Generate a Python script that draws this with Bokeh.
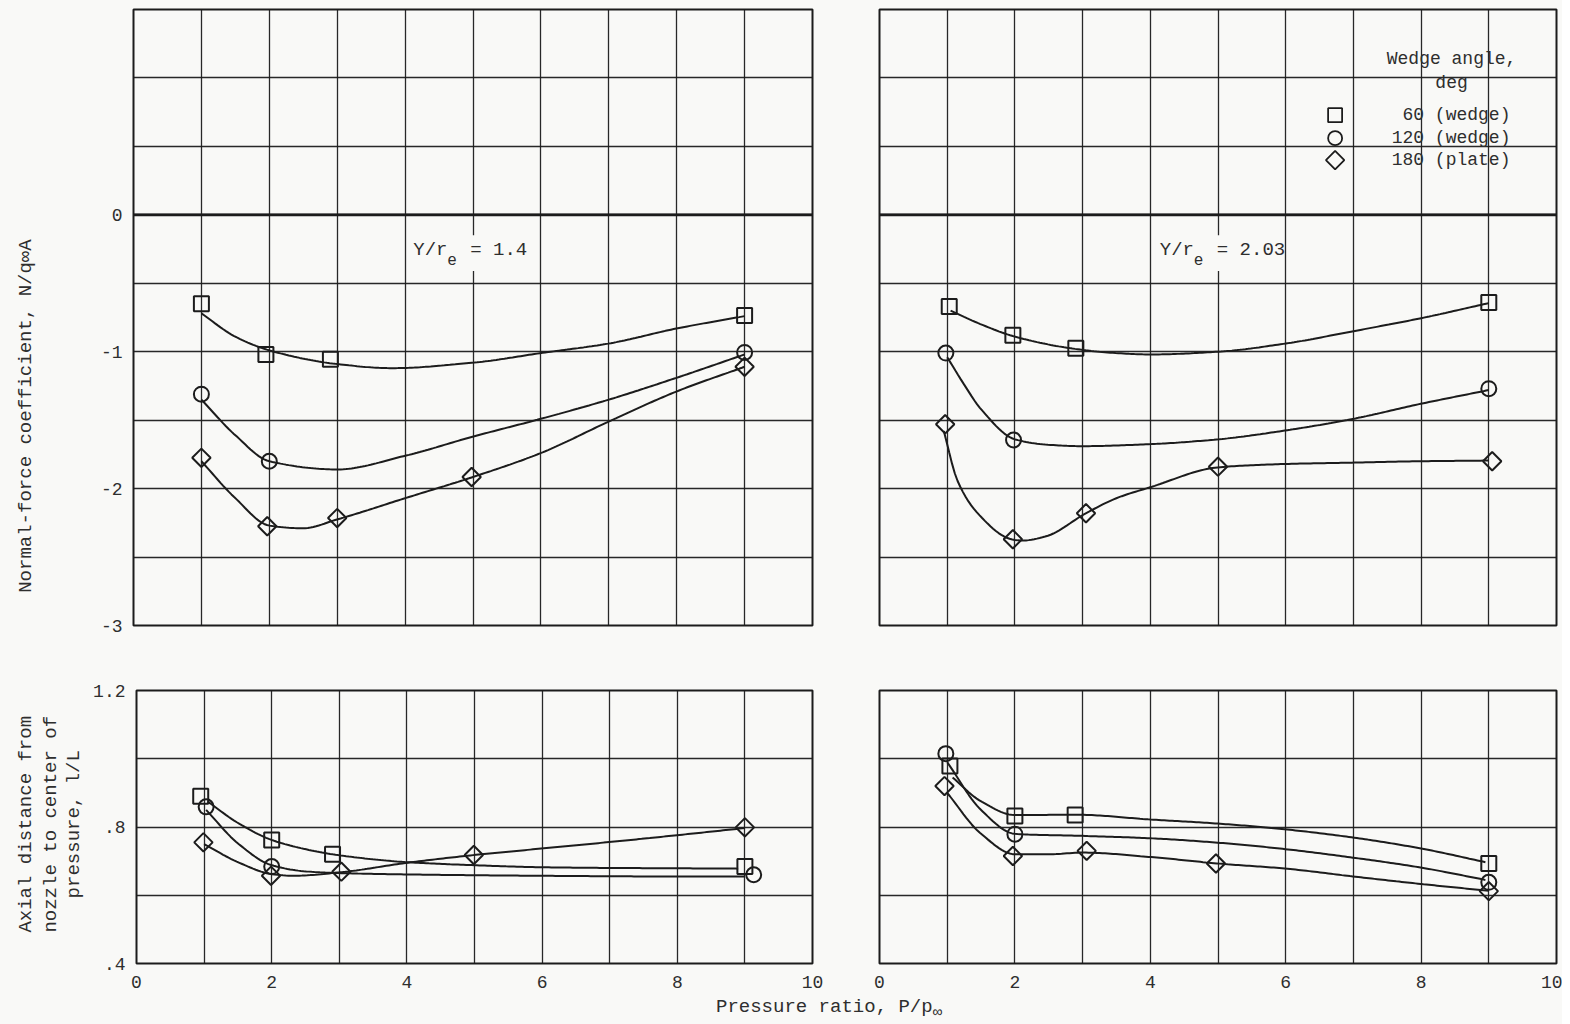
import numpy as np
from math import pi
from bokeh.plotting import figure
from bokeh.models import FixedTicker, Label, Span, BoxAnnotation, Div
from bokeh.layouts import column, row
from bokeh.embed import file_html
from bokeh.resources import INLINE

# ---------------- data ----------------
# Normal-force coefficient, Y/re = 1.4
nf14_sq_x = [1.0, 1.95, 2.9, 9.0]
nf14_sq_y = [-0.65, -1.02, -1.055, -0.735]
nf14_ci_x = [1.0, 2.0, 9.0]
nf14_ci_y = [-1.31, -1.80, -1.005]
nf14_di_x = [1.0, 1.97, 3.0, 4.98, 9.0]
nf14_di_y = [-1.775, -2.275, -2.215, -1.915, -1.11]
# faired curves
nf14_sq_fx = [1.0, 1.5, 2.0, 3.0, 3.8, 5.0, 6.0, 7.0, 8.0, 9.0]
nf14_sq_fy = [-0.72, -0.89, -0.99, -1.09, -1.12, -1.08, -1.01, -0.94, -0.83, -0.74]
nf14_ci_fx = [1.0, 1.5, 2.0, 3.0, 4.0, 5.0, 6.0, 7.0, 8.0, 9.0]
nf14_ci_fy = [-1.35, -1.61, -1.80, -1.86, -1.76, -1.62, -1.49, -1.35, -1.19, -1.02]
nf14_di_fx = [1.0, 1.5, 2.0, 2.5, 3.0, 4.0, 5.0, 6.0, 7.0, 8.0, 9.0]
nf14_di_fy = [-1.80, -2.07, -2.27, -2.29, -2.225, -2.07, -1.915, -1.74, -1.51, -1.29, -1.11]

# Normal-force coefficient, Y/re = 2.03
nf20_sq_x = [1.03, 1.97, 2.9, 9.0]
nf20_sq_y = [-0.67, -0.88, -0.975, -0.64]
nf20_ci_x = [0.98, 1.98, 9.0]
nf20_ci_y = [-1.01, -1.645, -1.27]
nf20_di_x = [0.97, 1.97, 3.05, 5.0, 9.05]
nf20_di_y = [-1.53, -2.37, -2.18, -1.84, -1.80]
nf20_sq_fx = [1.05, 1.5, 2.0, 2.9, 3.5, 4.0, 5.0, 6.0, 7.0, 8.0, 9.0]
nf20_sq_fy = [-0.70, -0.80, -0.89, -0.98, -1.01, -1.02, -1.0, -0.94, -0.85, -0.755, -0.645]
nf20_ci_fx = [1.0, 1.25, 1.5, 2.0, 2.5, 3.0, 4.0, 5.0, 6.0, 7.0, 8.0, 9.0]
nf20_ci_fy = [-1.04, -1.24, -1.42, -1.64, -1.68, -1.69, -1.675, -1.64, -1.575, -1.49, -1.38, -1.28]
nf20_di_fx = [0.95, 1.15, 1.45, 1.95, 2.1, 2.45, 3.05, 3.5, 4.0, 5.0, 6.0, 7.0, 8.0, 9.0]
nf20_di_fy = [-1.58, -1.94, -2.18, -2.37, -2.38, -2.35, -2.18, -2.07, -1.99, -1.845, -1.82, -1.81, -1.80, -1.795]

# Center of pressure l/L, Y/re = 1.4
cp14_sq_x = [0.95, 2.0, 2.9, 9.0]
cp14_sq_y = [0.89, 0.762, 0.72, 0.684]
cp14_ci_x = [1.03, 2.0, 9.13]
cp14_ci_y = [0.859, 0.684, 0.66]
cp14_di_x = [0.99, 1.99, 3.03, 4.99, 9.0]
cp14_di_y = [0.755, 0.657, 0.669, 0.718, 0.799]
cp14_sq_fx = [1.05, 1.5, 2.0, 2.5, 2.9, 4.0, 5.0, 6.0, 7.0, 8.0, 8.9]
cp14_sq_fy = [0.875, 0.812, 0.762, 0.735, 0.72, 0.697, 0.688, 0.682, 0.68, 0.679, 0.678]
cp14_ci_fx = [1.03, 1.5, 2.0, 2.5, 3.0, 4.0, 6.0, 8.0, 9.0]
cp14_ci_fy = [0.85, 0.752, 0.688, 0.67, 0.665, 0.661, 0.657, 0.655, 0.655]
cp14_di_fx = [1.0, 1.5, 2.0, 2.3, 3.0, 4.0, 5.0, 6.0, 7.0, 8.0, 9.0]
cp14_di_fy = [0.75, 0.697, 0.662, 0.657, 0.667, 0.695, 0.718, 0.737, 0.756, 0.776, 0.797]

# Center of pressure l/L, Y/re = 2.03
cp20_sq_x = [1.04, 2.0, 2.89, 9.0]
cp20_sq_y = [0.979, 0.832, 0.835, 0.693]
cp20_ci_x = [0.98, 2.0, 9.0]
cp20_ci_y = [1.015, 0.779, 0.638]
cp20_di_x = [0.96, 1.97, 3.06, 4.97, 9.0]
cp20_di_y = [0.92, 0.715, 0.73, 0.693, 0.612]
cp20_sq_fx = [1.08, 1.5, 2.0, 2.9, 4.0, 5.0, 6.0, 7.0, 8.0, 8.95]
cp20_sq_fy = [0.945, 0.875, 0.835, 0.836, 0.822, 0.81, 0.793, 0.769, 0.737, 0.697]
cp20_ci_fx = [1.0, 1.5, 2.0, 3.0, 4.0, 5.0, 6.0, 7.0, 8.0, 8.95]
cp20_ci_fy = [0.99, 0.85, 0.78, 0.774, 0.767, 0.754, 0.735, 0.71, 0.681, 0.645]
cp20_di_fx = [1.0, 1.5, 2.0, 2.5, 3.0, 4.0, 5.0, 6.0, 7.0, 8.0, 9.0]
cp20_di_fy = [0.9, 0.78, 0.72, 0.72, 0.725, 0.712, 0.693, 0.678, 0.655, 0.633, 0.613]

x_ticks = [0, 2, 4, 6, 8, 10]
nf_ticks = [-3, -2, -1, 0]
cp_ticks = [0.4, 0.8, 1.2]
cp_tick_labels = {0.4: ".4", 0.8: ".8", 1.2: "1.2"}
legend_title = ["Wedge angle,", "deg"]
legend_labels = ["60 (wedge)", "120 (wedge)", "180 (plate)"]
nf_label = "Normal-force coefficient, N/q\u221eA"
cp_label_lines = ["Axial distance from", "nozzle to center of", "pressure, l/L"]

# ---------------- styling ----------------
FONT = "Liberation Mono"
INK = "#1c1c1c"
TXT = "#2e2e2e"
BG = "#f9f9f7"
LBL_W = 90  # width of the strip that carries the rotated y titles


def pchip(x, y, n=200):
    x = np.asarray(x, float)
    y = np.asarray(y, float)
    h = np.diff(x)
    d = np.diff(y) / h
    m = np.zeros_like(y)
    m[0] = d[0]
    m[-1] = d[-1]
    for k in range(1, len(x) - 1):
        if d[k - 1] * d[k] <= 0:
            m[k] = 0.0
        else:
            w1 = 2 * h[k] + h[k - 1]
            w2 = h[k] + 2 * h[k - 1]
            m[k] = (w1 + w2) / (w1 / d[k - 1] + w2 / d[k])
    xs = np.linspace(x[0], x[-1], n)
    idx = np.clip(np.searchsorted(x, xs) - 1, 0, len(x) - 2)
    t = (xs - x[idx]) / h[idx]
    h00 = 2 * t**3 - 3 * t**2 + 1
    h10 = t**3 - 2 * t**2 + t
    h01 = -2 * t**3 + 3 * t**2
    h11 = t**3 - t**2
    ys = h00 * y[idx] + h10 * h[idx] * m[idx] + h01 * y[idx + 1] + h11 * h[idx] * m[idx + 1]
    return xs, ys


def make_fig(w, h, yr, mbl, mbr, mbt, mbb, ygrid_ticks):
    p = figure(width=w, height=h, x_range=(0, 10), y_range=yr,
               output_backend="svg", toolbar_location=None,
               min_border_left=mbl, min_border_right=mbr,
               min_border_top=mbt, min_border_bottom=mbb)
    p.background_fill_color = BG
    p.border_fill_color = BG
    p.outline_line_color = INK
    p.outline_line_width = 2
    p.xgrid.ticker = FixedTicker(ticks=list(range(0, 11)))
    p.ygrid.ticker = FixedTicker(ticks=ygrid_ticks)
    for g in (p.xgrid, p.ygrid):
        g.grid_line_color = INK
        g.grid_line_width = 1.3
        g.grid_line_alpha = 0.95
    for ax in (p.xaxis, p.yaxis):
        ax.axis_line_color = None
        ax.major_tick_line_color = None
        ax.minor_tick_line_color = None
        ax.major_label_text_font = FONT
        ax.major_label_text_font_size = "18px"
        ax.major_label_text_color = TXT
        ax.major_label_text_font_style = "normal"
    p.xaxis.ticker = FixedTicker(ticks=x_ticks)
    p.xaxis.major_label_standoff = 6
    p.yaxis.major_label_standoff = 5
    return p


def make_label_strip(h, yr, mbt, mbb):
    p = figure(width=LBL_W, height=h, x_range=(0, LBL_W), y_range=yr,
               output_backend="svg", toolbar_location=None,
               min_border_left=0, min_border_right=0,
               min_border_top=mbt, min_border_bottom=mbb)
    p.axis.visible = False
    p.grid.visible = False
    p.outline_line_color = None
    p.background_fill_color = BG
    p.border_fill_color = BG
    return p


def draw_series(p, fx, fy, mx, my, marker):
    xs, ys = pchip(fx, fy)
    p.line(xs, ys, line_color=INK, line_width=2)
    if marker == "diamond":
        p.scatter(mx, my, marker="square", angle=pi / 4, size=13,
                  fill_color=None, line_color=INK, line_width=2)
    else:
        p.scatter(mx, my, marker=marker, size=15,
                  fill_color=None, line_color=INK, line_width=2)


def add_yre(p, x0, y0, value_text, box):
    p.add_layout(BoxAnnotation(left=box[0], right=box[1], bottom=box[2], top=box[3],
                               fill_color=BG, fill_alpha=1.0, line_color=None))
    common = dict(text_font=FONT, text_color=TXT, text_baseline="middle", text_align="left")
    p.add_layout(Label(x=x0, y=y0, text="Y/r", text_font_size="19px", **common))
    p.add_layout(Label(x=x0, y=y0 - 0.065, x_offset=34, text="e", text_font_size="16px", **common))
    p.add_layout(Label(x=x0, y=y0, x_offset=57, text="= " + value_text, text_font_size="19px", **common))


nf_grid = [-3 + 0.5 * i for i in range(10)]
cp_grid = [0.4, 0.6, 0.8, 1.0, 1.2]

TOP_H, TOP_T, TOP_B = 655, 9, 30
BOT_H, BOT_T, BOT_B = 338, 35, 30

# ---- top-left ----
tl_lab = make_label_strip(TOP_H, (-3, 1.5), TOP_T, TOP_B)
tl_lab.add_layout(Label(x=25, y=-1.47, angle=pi / 2, text=nf_label,
                        text_font=FONT, text_font_size="19px", text_color=TXT,
                        text_align="center", text_baseline="middle"))

tl = make_fig(845 - LBL_W, TOP_H, (-3, 1.5), 133 - LBL_W, 33, TOP_T, TOP_B, nf_grid)
tl.xaxis.visible = False
tl.yaxis.ticker = FixedTicker(ticks=nf_ticks)
tl.yaxis.major_label_overrides = {-3: "-3", -2: "-2", -1: "-1", 0: "0"}
tl.add_layout(Span(location=0, dimension="width", line_color=INK, line_width=2.6))
draw_series(tl, nf14_sq_fx, nf14_sq_fy, nf14_sq_x, nf14_sq_y, "square")
draw_series(tl, nf14_ci_fx, nf14_ci_fy, nf14_ci_x, nf14_ci_y, "circle")
draw_series(tl, nf14_di_fx, nf14_di_fy, nf14_di_x, nf14_di_y, "diamond")
add_yre(tl, 4.12, -0.26, "1.4", (4.08, 5.8, -0.41, -0.15))

# ---- top-right ----
tr = make_fig(717, TOP_H, (-3, 1.5), 34, 6, TOP_T, TOP_B, nf_grid)
tr.xaxis.visible = False
tr.yaxis.visible = False
tr.add_layout(Span(location=0, dimension="width", line_color=INK, line_width=2.6))
draw_series(tr, nf20_sq_fx, nf20_sq_fy, nf20_sq_x, nf20_sq_y, "square")
draw_series(tr, nf20_ci_fx, nf20_ci_fy, nf20_ci_x, nf20_ci_y, "circle")
draw_series(tr, nf20_di_fx, nf20_di_fy, nf20_di_x, nf20_di_y, "diamond")
add_yre(tr, 4.14, -0.26, "2.03", (4.08, 5.95, -0.41, -0.15))

# legend (manual, top-right panel)
LEG_TX, LEG_MX, LEG_TR = 8.45, 6.73, 9.32
leg_title_y = [1.135, 0.965]
leg_row_y = [0.728, 0.56, 0.40]
for t, yy in zip(legend_title, leg_title_y):
    tr.add_layout(Label(x=LEG_TX, y=yy, text=t, text_font=FONT, text_font_size="18px",
                        text_color=TXT, text_align="center", text_baseline="middle"))
for t, yy, mk in zip(legend_labels, leg_row_y, ["square", "circle", "diamond"]):
    tr.add_layout(Label(x=LEG_TR, y=yy, text=t, text_font=FONT, text_font_size="18px",
                        text_color=TXT, text_align="right", text_baseline="middle"))
    if mk == "diamond":
        tr.scatter([LEG_MX], [yy], marker="square", angle=pi / 4, size=13,
                   fill_color=None, line_color=INK, line_width=1.8)
    else:
        tr.scatter([LEG_MX], [yy], marker=mk, size=14,
                   fill_color=None, line_color=INK, line_width=1.8)

# ---- bottom-left ----
bl_lab = make_label_strip(BOT_H, (0.4, 1.2), BOT_T, BOT_B)
for t, xx in zip(cp_label_lines, [25, 50, 73]):
    bl_lab.add_layout(Label(x=xx, y=0.808, angle=pi / 2, text=t, text_font=FONT,
                            text_font_size="19px", text_color=TXT,
                            text_align="center", text_baseline="middle"))

bl = make_fig(845 - LBL_W, BOT_H, (0.4, 1.2), 133 - LBL_W, 33, BOT_T, BOT_B, cp_grid)
bl.yaxis.ticker = FixedTicker(ticks=cp_ticks)
bl.yaxis.major_label_overrides = cp_tick_labels
draw_series(bl, cp14_sq_fx, cp14_sq_fy, cp14_sq_x, cp14_sq_y, "square")
draw_series(bl, cp14_ci_fx, cp14_ci_fy, cp14_ci_x, cp14_ci_y, "circle")
draw_series(bl, cp14_di_fx, cp14_di_fy, cp14_di_x, cp14_di_y, "diamond")

# ---- bottom-right ----
br = make_fig(717, BOT_H, (0.4, 1.2), 34, 6, BOT_T, BOT_B, cp_grid)
br.yaxis.visible = False
draw_series(br, cp20_sq_fx, cp20_sq_fy, cp20_sq_x, cp20_sq_y, "square")
draw_series(br, cp20_ci_fx, cp20_ci_fy, cp20_ci_x, cp20_ci_y, "circle")
draw_series(br, cp20_di_fx, cp20_di_fy, cp20_di_x, cp20_di_y, "diamond")

xlabel = Div(text="Pressure ratio, P/p<sub>\u221e</sub>", width=500, height=28,
             styles={"font-family": FONT, "font-size": "19px", "color": TXT,
                     "margin-left": "716px", "margin-top": "1px", "white-space": "nowrap"})

layout = column(row(tl_lab, tl, tr), row(bl_lab, bl, br), xlabel)
layout.styles = {"background-color": BG}

open("out.html", "w").write(file_html(layout, INLINE))
